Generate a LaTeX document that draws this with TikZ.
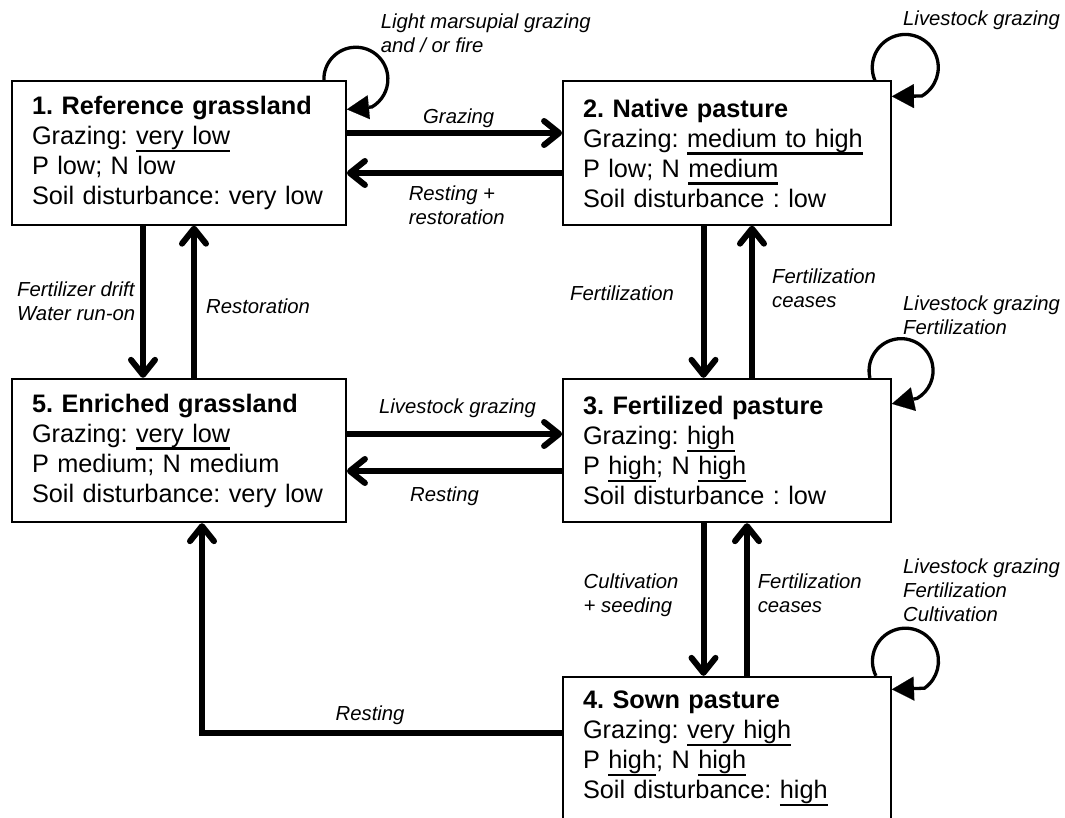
\documentclass[tikz,border=0pt]{standalone}
\usepackage{fontspec}
\setmainfont{Liberation Sans}
\usetikzlibrary{arrows.meta}
\frenchspacing
\newcommand\ulin[1]{\setbox0\hbox{#1}\rlap{\rule[-7.5pt]{\wd0}{2.2pt}}\box0}
\newcommand\twolines[2]{\vtop{\hbox{#1}\hbox{#2}}}
\newcommand\threelines[3]{\vtop{\hbox{#1}\hbox{#2}\hbox{#3}}}
\tikzset{
  state/.style={draw, line width=1.8pt, minimum height=143.5pt, inner xsep=20pt, inner ysep=0pt,
    align=left, font=\fontsize{25.3}{30}\selectfont\frenchspacing},
  leftbox/.style={state, text width=294pt},
  rightbox/.style={state, text width=288pt},
  lbl/.style={inner sep=0pt, anchor=base west, font=\fontsize{20.3}{24}\selectfont\itshape\frenchspacing},
  flow/.style={line width=6pt, -{Straight Barb[length=15pt, width=24pt, round]}},
  selfloop/.style={line width=3.3pt, -{Triangle[length=22pt, width=24pt, line width=0.1pt]}}
}
\begin{document}
\begin{tikzpicture}[x=1pt, y=-1pt]
\useasboundingbox (0,0) rectangle (1065,817);
\clip (0,0) rectangle (1065,817);
% boxes
\node[leftbox] (b1) at (179,153) {\textbf{1. Reference grassland}\\Grazing: \ulin{very low}\\P low; N low\\Soil disturbance: very low};
\node[rightbox] (b2) at (727,153) {\textbf{2. Native pasture}\\Grazing: \ulin{medium to high}\\P low; N \ulin{medium}\\Soil disturbance : low};
\node[leftbox] (b5) at (179,450.5) {\textbf{5. Enriched grassland}\\Grazing: \ulin{very low}\\P medium; N medium\\Soil disturbance: very low};
\node[rightbox] (b3) at (727,450.5) {\textbf{3. Fertilized pasture}\\Grazing: \ulin{high}\\P \ulin{high}; N \ulin{high}\\Soil disturbance : low};
\node[rightbox] (b4) at (727,748.5) {\textbf{4. Sown pasture}\\Grazing: \ulin{very high}\\P \ulin{high}; N \ulin{high}\\Soil disturbance: \ulin{high}};
% horizontal connectors
\draw[flow] ([yshift=20pt]b1.east) -- ([yshift=20pt]b2.west);
\draw[flow] ([yshift=-20pt]b2.west) -- ([yshift=-20pt]b1.east);
\draw[flow] ([yshift=16.5pt]b5.east) -- ([yshift=16.5pt]b3.west);
\draw[flow] ([yshift=-20.5pt]b3.west) -- ([yshift=-20.5pt]b5.east);
% vertical connectors
\draw[flow] ([xshift=-36pt]b1.south) -- ([xshift=-36pt]b5.north);
\draw[flow] ([xshift=15pt]b5.north) -- ([xshift=15pt]b1.south);
\draw[flow] ([xshift=-23.5pt]b2.south) -- ([xshift=-23.5pt]b3.north);
\draw[flow] ([xshift=25pt]b3.north) -- ([xshift=25pt]b2.south);
\draw[flow] ([xshift=-23.5pt]b3.south) -- ([xshift=-23.5pt]b4.north);
\draw[flow] ([xshift=20pt]b4.north) -- ([xshift=20pt]b3.south);
\draw[flow] ([yshift=15.5pt]b4.west) -| ([xshift=23pt]b5.south);
% self loops
\draw[selfloop] ([xshift=-23pt]b1.north east) arc[start angle=178, end angle=420, radius=32] -- ([yshift=-29pt]b1.north east);
\draw[selfloop] ([xshift=-17pt]b2.north east) arc[start angle=157, end angle=420, radius=33] -- ([yshift=-16pt]b2.north east);
\draw[selfloop] ([xshift=-22pt]b3.north east) arc[start angle=167, end angle=420, radius=32] -- ([yshift=-26pt]b3.north east);
\draw[selfloop] ([xshift=-16pt]b4.north east) arc[start angle=153.6, end angle=415, radius=33] -- ([yshift=-13.5pt]b4.north east);
% labels
\node[lbl] (l1) at (380.6,28) {\twolines{Light marsupial grazing}{and / or fire}};
\node[lbl] (l2) at (423,123) {Grazing};
\node[lbl] (l3) at (408.6,200) {\twolines{Resting +}{restoration}};
\node[lbl] (l4) at (903,25) {Livestock grazing};
\node[lbl] (l5) at (17,296.7) {\twolines{Fertilizer drift}{Water run-on}};
\node[lbl] (l6) at (206,313) {Restoration};
\node[lbl] (l7) at (570,300) {Fertilization};
\node[lbl] (l8) at (772,283) {\twolines{Fertilization}{ceases}};
\node[lbl] (l9) at (903,310) {\twolines{Livestock grazing}{Fertilization}};
\node[lbl] (l10) at (379,413) {Livestock grazing};
\node[lbl] (l11) at (410,501.7) {Resting};
\node[lbl] (l12) at (583.5,588) {\twolines{Cultivation}{+ seeding}};
\node[lbl] (l13) at (757.6,588) {\twolines{Fertilization}{ceases}};
\node[lbl] (l14) at (903,573) {\threelines{Livestock grazing}{Fertilization}{Cultivation}};
\node[lbl] (l15) at (335.5,720) {Resting};
\end{tikzpicture}
\end{document}
